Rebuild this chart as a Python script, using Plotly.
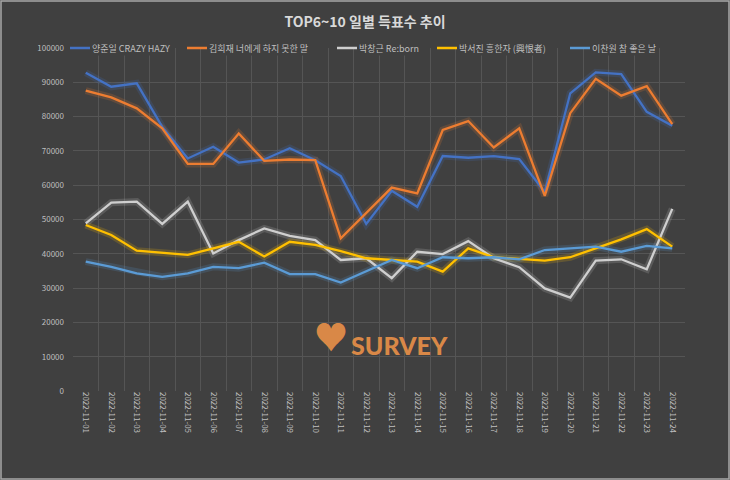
import plotly.graph_objects as go

dates = ["2022-11-%02d" % d for d in range(1, 25)]

names = ["양준일 CRAZY HAZY", "김희재 너에게 하지 못한 말", "박창근 Re:born",
         "박서진 흥한자 (興恨者)", "이찬원 참 좋은 날"]

yang = [92800, 88700, 89700, 77000, 67800, 71200, 66600, 67500, 70800, 67300, 62700, 48700,
        58400, 53700, 68500, 68000, 68500, 67600, 58000, 86800, 92900, 92400, 81400, 77300]
kim = [87600, 85600, 82400, 76600, 66200, 66200, 75100, 67100, 67500, 67300, 44500, 51900,
       59300, 57600, 76100, 78700, 71000, 76600, 56900, 81000, 91000, 86100, 88900, 77800]
park_cg = [48900, 54900, 55200, 48700, 55200, 40100, 44000, 47400, 45200, 44000, 38200, 38700,
           32900, 40600, 39900, 43700, 38700, 36100, 29900, 27200, 38000, 38400, 35500, 53100]
park_sj = [48400, 45500, 40900, 40300, 39700, 41600, 43500, 39200, 43500, 42600, 40800, 38700,
           38200, 37700, 34800, 41600, 39000, 38400, 38000, 39000, 41600, 44200, 47200, 42100]
lee = [37700, 36200, 34300, 33300, 34300, 36200, 35800, 37400, 34100, 34100, 31600, 34800,
       38200, 35800, 39000, 38700, 39000, 38400, 41100, 41600, 42100, 40600, 42300, 41600]

series = [yang, kim, park_cg, park_sj, lee]
colors = ["#4472C4", "#ED7D31", "#CFCFCF", "#FFC000", "#5B9BD5"]

W, H = 730, 480
L, R, T, B = 73, 45, 48, 89
PW, PH = W - L - R, H - T - B

def px(x):
    return (x - L) / PW

def py(y):
    return (H - B - y) / PH

fig = go.Figure()
# glow underlays
for vals, c in zip(series, colors):
    fig.add_trace(go.Scatter(x=dates, y=vals, mode="lines", showlegend=False,
                             hoverinfo="skip", line=dict(color=c, width=7), opacity=0.18))
for name, vals, c in zip(names, series, colors):
    fig.add_trace(go.Scatter(x=dates, y=vals, mode="lines", name=name, showlegend=False,
                             line=dict(color=c, width=2.3)))

bg = "#404040"
fig.update_layout(
    width=W, height=H,
    paper_bgcolor=bg, plot_bgcolor=bg,
    margin=dict(l=L, r=R, t=T, b=B, autoexpand=False),
    font=dict(family="Noto Sans CJK KR, Noto Sans, sans-serif", color="#BFBFBF", size=9),
    title=dict(text="<b>TOP6~10 일별 득표수 추이</b>", x=0.5, xanchor="center",
               y=1 - 22 / H, yanchor="middle",
               font=dict(size=14, color="#D9D9D9", family="Noto Sans CJK KR")),
    showlegend=False,
    xaxis=dict(type="category", range=[-0.5, len(dates) - 0.5], tickson="boundaries",
               showgrid=True, gridcolor="#555555",
               gridwidth=1, tickangle=90, ticks="", showline=False, zeroline=False,
               tickfont=dict(size=8, color="#BFBFBF"), fixedrange=True),
    yaxis=dict(range=[0, 100000], dtick=10000, showgrid=True, gridcolor="#555555", gridwidth=1,
               zeroline=False, showline=False, ticks="", tickformat="d",
               tickfont=dict(size=8, color="#BFBFBF"), ticklabelstandoff=8, fixedrange=True),
)

# legend drawn as shapes + text (single row, as in the reference)
legend_line_x = [70, 187, 337, 437, 570]
legend_y = 48
for name, c, lx in zip(names, colors, legend_line_x):
    fig.add_shape(type="line", xref="paper", yref="paper",
                  x0=px(lx), x1=px(lx + 20), y0=py(legend_y), y1=py(legend_y),
                  line=dict(color=c, width=2.5))
    fig.add_annotation(text=name, xref="paper", yref="paper", x=px(lx + 21), y=py(legend_y),
                       xanchor="left", yanchor="middle", showarrow=False,
                       font=dict(size=9, color="#BFBFBF"), bgcolor=bg, borderpad=0)

fig.add_annotation(text="♥", xref="paper", yref="paper", x=px(331), y=py(362),
                   showarrow=False, font=dict(size=34, color="#D98847"))
fig.add_annotation(text="SURVEY", xref="paper", yref="paper", x=px(399), y=py(362),
                   showarrow=False,
                   font=dict(size=25, color="#D98847", family="Lato, sans-serif", weight=900))

fig.add_shape(type="rect", xref="paper", yref="paper",
              x0=px(1), x1=px(W - 1), y0=py(H - 1), y1=py(1),
              line=dict(color="#A6A6A6", width=1.5), fillcolor="rgba(0,0,0,0)")

fig.write_html("out.html", config={"displayModeBar": False},
               post_script="document.body.style.margin='0';")
